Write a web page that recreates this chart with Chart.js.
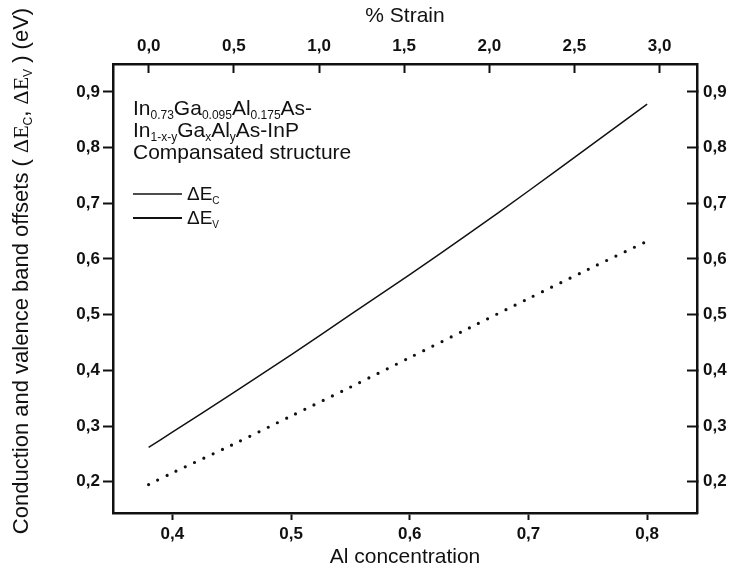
<!DOCTYPE html>
<html>
<head>
<meta charset="utf-8">
<script src="https://cdn.jsdelivr.net/npm/chart.js@4.4.0/dist/chart.umd.min.js"></script>
<style>
  html, body { margin: 0; padding: 0; background: #fff; }
  canvas { display: block; }
</style>
</head>
<body>
<canvas id="bandChart" width="731" height="576"></canvas>
<script>
// Al concentration (bottom axis) and band offsets (eV)
const alConc  = [0.38, 0.40, 0.45, 0.50, 0.55, 0.60, 0.65, 0.70, 0.75, 0.80];
const deltaEc = [0.262, 0.289, 0.358, 0.428, 0.500, 0.572, 0.646, 0.722, 0.800, 0.878];
const deltaEv = [0.195, 0.216, 0.266, 0.318, 0.370, 0.423, 0.476, 0.529, 0.581, 0.632];

// axis ranges
const alRange = [0.35, 0.842];
const strainRange = [-0.21, 3.22];
const offsetRange = [0.144, 0.95];

// text block inside the plot
const legendRows = [
  [{t: 'In'}, {t: '0.73', sub: true}, {t: 'Ga'}, {t: '0.095', sub: true}, {t: 'Al'}, {t: '0.175', sub: true}, {t: 'As-'}],
  [{t: 'In'}, {t: '1-x-y', sub: true}, {t: 'Ga'}, {t: 'x', sub: true}, {t: 'Al'}, {t: 'y', sub: true}, {t: 'As-InP'}],
  [{t: 'Compansated structure'}]
];
const yTitle = [
  {t: 'Conduction and valence band offsets ( '}, {t: 'ΔE', serif: true}, {t: 'C', sub: true},
  {t: ', '}, {t: 'ΔE', serif: true}, {t: 'V', sub: true}, {t: ' ) (eV)'}
];

const FONT = '"Liberation Sans", Arial, sans-serif';
const SERIF = '"Liberation Serif", "Times New Roman", serif';
const INK = '#111';

function partFont(p, size) {
  if (p.sub) return Math.round(size * 0.55) + 'px ' + FONT;
  return size + 'px ' + (p.serif ? SERIF : FONT);
}

function richWidth(ctx, parts, size) {
  let w = 0;
  parts.forEach(p => { ctx.font = partFont(p, size); w += ctx.measureText(p.t).width; });
  return w;
}

function drawRich(ctx, x, y, parts, size) {
  parts.forEach(p => {
    ctx.font = partFont(p, size);
    ctx.fillText(p.t, x, p.sub ? y + 4 : y);
    x += ctx.measureText(p.t).width;
  });
  return x;
}

const textPlugin = {
  id: 'textBlock',
  afterDraw(chart) {
    const ctx = chart.ctx;
    ctx.save();
    ctx.fillStyle = INK;
    ctx.textBaseline = 'alphabetic';
    ctx.textAlign = 'left';

    // formula lines
    legendRows.forEach((row, i) => drawRich(ctx, 133, 115 + i * 22, row, 21));

    // legend samples
    ctx.strokeStyle = INK;
    ctx.lineWidth = 1.3;
    ctx.beginPath(); ctx.moveTo(133, 194); ctx.lineTo(182, 194); ctx.stroke();
    ctx.lineWidth = 1.8;
    ctx.beginPath(); ctx.moveTo(133, 218); ctx.lineTo(182, 218); ctx.stroke();
    drawRich(ctx, 187, 200, [{t: 'ΔE'}, {t: 'C', sub: true}], 19);
    drawRich(ctx, 187, 224, [{t: 'ΔE'}, {t: 'V', sub: true}], 19);

    // rotated y title
    const w = richWidth(ctx, yTitle, 22);
    ctx.translate(28, 271);
    ctx.rotate(-Math.PI / 2);
    drawRich(ctx, -w / 2, 0, yTitle, 22);
    ctx.restore();
  }
};

function isMajor(v, per) {
  return Math.abs(v * per - Math.round(v * per)) < 1e-6;
}

function commaLabel(v) {
  return v.toFixed(1).replace('.', ',');
}

// shared look of the four framed axes: majors labelled, minors shorter
function axisLook(per, tickLen, minorLen, pad, hideAt) {
  return {
    border: {display: true, color: INK, width: 2.5},
    grid: {
      drawOnChartArea: false,
      drawTicks: true,
      tickLength: tickLen,
      tickColor: c => (c.tick && hideAt && hideAt(c.tick.value)) ? 'rgba(0,0,0,0)' : INK,
      tickWidth: c => (c.tick && isMajor(c.tick.value, per)) ? 2 : 1.6,
      tickBorderDash: c => (c.tick && !isMajor(c.tick.value, per)) ? [0, Math.abs(tickLen) - minorLen, minorLen + 4, 100] : []
    },
    ticks: {
      autoSkip: false,
      includeBounds: false,
      maxRotation: 0,
      padding: pad,
      color: INK,
      font: {family: FONT, size: 17, weight: 'bold'},
      callback: v => isMajor(v, per) ? commaLabel(v) : ''
    }
  };
}

const ctx = document.getElementById('bandChart').getContext('2d');

new Chart(ctx, {
  type: 'line',
  data: {
    datasets: [
      {
        label: 'ΔEc',
        data: alConc.map((x, i) => ({x: x, y: deltaEc[i]})),
        borderColor: INK,
        borderWidth: 1.5,
        pointRadius: 0,
        tension: 0.3,
        xAxisID: 'x',
        yAxisID: 'y'
      },
      {
        label: 'ΔEv',
        data: alConc.map((x, i) => ({x: x, y: deltaEv[i]})),
        borderColor: INK,
        borderWidth: 3.2,
        borderDash: [0, 10.2],
        borderCapStyle: 'round',
        pointRadius: 0,
        tension: 0.3,
        xAxisID: 'x',
        yAxisID: 'y'
      }
    ]
  },
  options: {
    responsive: false,
    animation: false,
    layout: {padding: 0},
    plugins: {
      legend: {display: false},
      tooltip: {enabled: false}
    },
    scales: {
      x: Object.assign(axisLook(10, 7, 4, 4), {
        type: 'linear',
        position: 'bottom',
        min: alRange[0],
        max: alRange[1],
        afterFit: s => { s.height = 63; },
        title: {
          display: true,
          text: 'Al concentration',
          color: INK,
          font: {family: FONT, size: 21},
          padding: {top: 0, bottom: 6}
        }
      }),
      xTop: Object.assign(axisLook(2, -9, 5, 16), {
        type: 'linear',
        position: 'top',
        min: strainRange[0],
        max: strainRange[1],
        afterFit: s => { s.height = 64; },
        title: {
          display: true,
          text: '% Strain',
          color: INK,
          font: {family: FONT, size: 21},
          padding: {top: 4, bottom: 0}
        }
      }),
      y: Object.assign(axisLook(10, 10, 5, 3, v => v > 0.94), {
        type: 'linear',
        position: 'left',
        min: offsetRange[0],
        max: offsetRange[1],
        afterFit: s => { s.width = 113; }
      }),
      yRight: Object.assign(axisLook(10, -10, 5, 16, v => v > 0.94), {
        type: 'linear',
        position: 'right',
        min: offsetRange[0],
        max: offsetRange[1],
        afterFit: s => { s.width = 34; }
      })
    }
  },
  plugins: [textPlugin]
});
</script>
</body>
</html>
